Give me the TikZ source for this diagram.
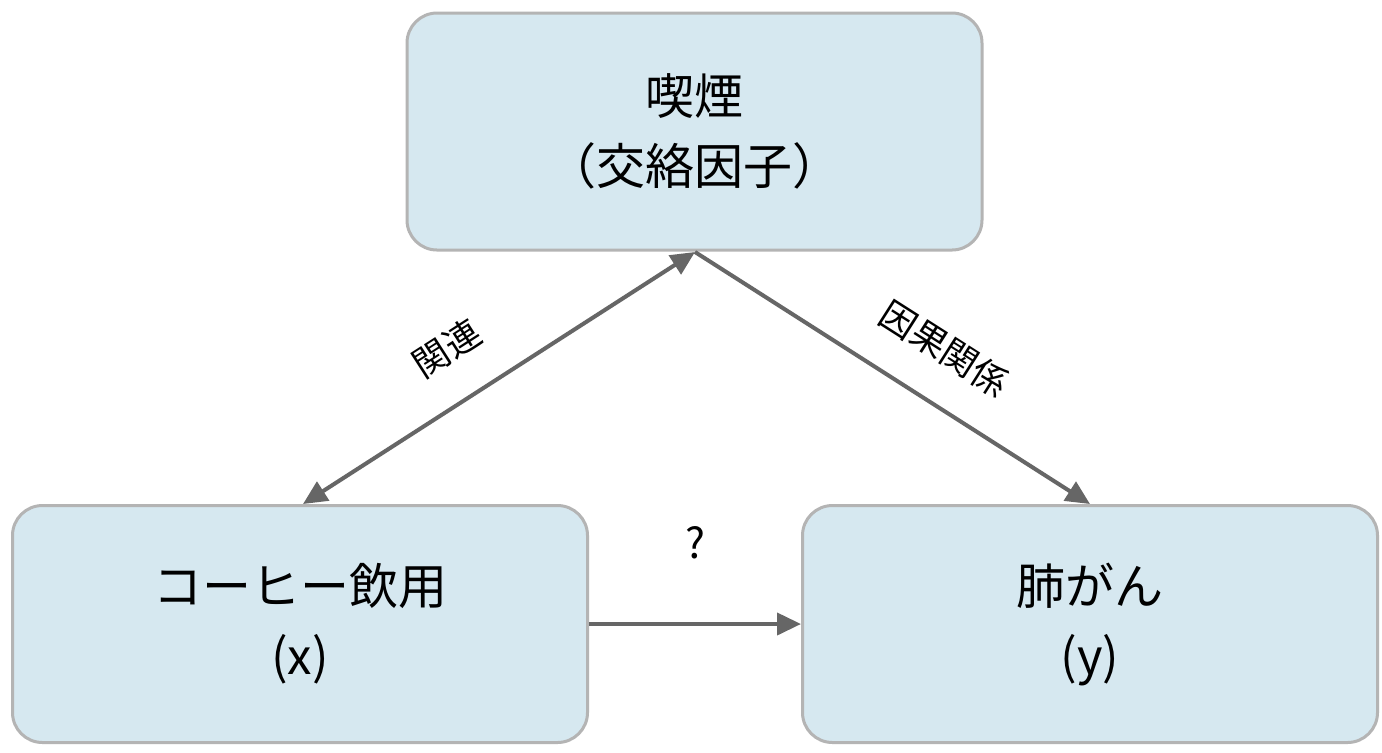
\documentclass[tikz,border=0pt]{standalone}
\usepackage{fontspec}
\setmainfont{Noto Sans CJK JP}
\usetikzlibrary{arrows.meta}
\definecolor{boxfill}{HTML}{D6E8F0}
\definecolor{boxline}{HTML}{B4B4B4}
\definecolor{arr}{HTML}{666666}
\begin{document}
\begin{tikzpicture}[x=0.5pt,y=-0.5pt,
 box/.style={draw=boxline,line width=1.5pt,fill=boxfill,rounded corners=15pt,minimum width=287.5pt,minimum height=118.5pt,align=center,font=\fontsize{24.5}{35}\selectfont},
 conn/.style={draw=arr,line width=2pt,-{Triangle[length=12pt,width=11pt]}},
 lab/.style={font=\fontsize{18}{20}\selectfont}]
\useasboundingbox[fill=white] (0,0) rectangle (1382,752);
\node[box] (top) at (694.5,131.5) {喫煙\\（交絡因子）};
\node[box] (cx) at (300,624) {コーヒー飲用\\(x)};
\node[box] (ly) at (1090,624) {肺がん\\(y)};
\coordinate (apex) at (695,252);
\coordinate (xin) at (303,504);
\coordinate (yin) at (1090,504);
\draw[conn,{Triangle[length=12pt,width=11pt]}-{Triangle[length=12pt,width=11pt]}] (xin) -- node[lab,sloped,above=14pt,pos=0.44]{関連} (apex);
\draw[conn] (apex) -- node[lab,sloped,above=14pt,pos=0.56]{因果関係} (yin);
\draw[conn] (cx.east) -- node[lab,above=28pt,font=\fontsize{21}{22}\selectfont]{?} (ly.west);
\end{tikzpicture}
\end{document}
